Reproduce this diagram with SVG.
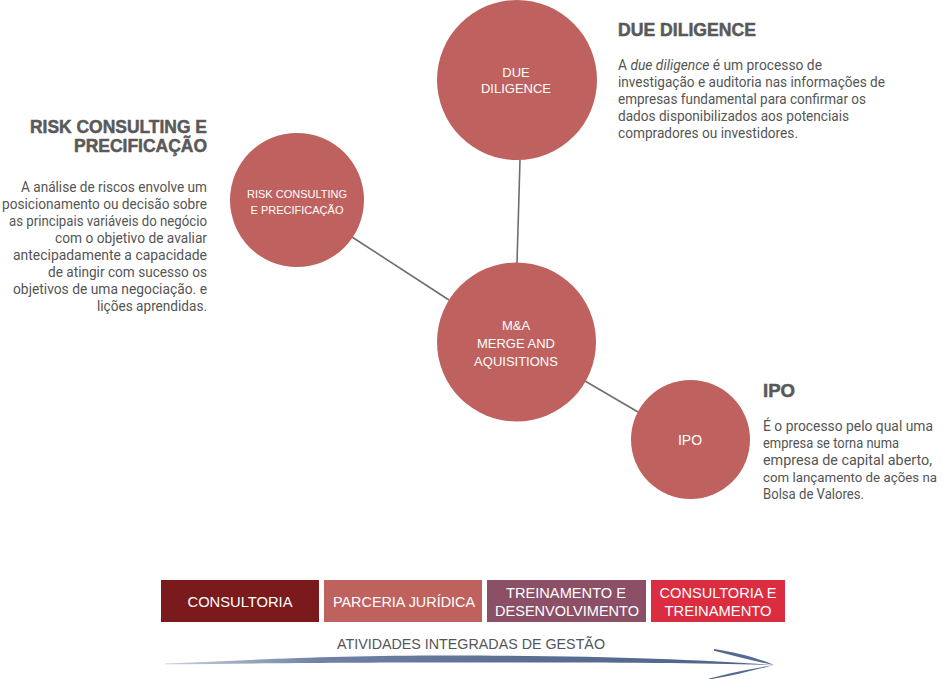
<svg xmlns="http://www.w3.org/2000/svg" width="943" height="679" viewBox="0 0 943 679">
<defs>
<style>
.node circle{fill:#bf615e}
.lbl{font-family:"Liberation Sans",Arial,sans-serif;fill:#fff;text-anchor:middle}
.hd{font-family:"Liberation Sans",Arial,sans-serif;font-weight:bold;font-size:18px;fill:#595959;stroke:#595959;stroke-width:0.5}
.bd{font-family:Roboto,"Liberation Sans",sans-serif;font-size:14px;fill:#555}
.conn line{stroke:#6e6e6e;stroke-width:1.6}
.box text{font-family:"Liberation Sans",Arial,sans-serif;font-size:15px;fill:#fff;text-anchor:middle}
</style>
<linearGradient id="ag" x1="165" y1="0" x2="775" y2="0" gradientUnits="userSpaceOnUse">
<stop offset="0" stop-color="#c8d0dd"/>
<stop offset="0.25" stop-color="#6f82a4"/>
<stop offset="0.6" stop-color="#5a6e94"/>
<stop offset="1" stop-color="#4f6489"/>
</linearGradient>
</defs>
<rect width="943" height="679" fill="#fff"/>

<g id="connectors" class="conn">
<line x1="520" y1="160" x2="517" y2="263"/>
<line x1="352" y1="237" x2="449" y2="300"/>
<line x1="585" y1="381" x2="638" y2="412"/>
</g>

<g id="due" class="node">
<circle cx="517" cy="80" r="80"/>
<text class="lbl" font-size="13" x="516" y="77">DUE</text>
<text class="lbl" font-size="13" x="516" y="93">DILIGENCE</text>
</g>
<g id="risk" class="node">
<circle cx="297" cy="200" r="67"/>
<text class="lbl" font-size="11" x="297" y="198">RISK CONSULTING</text>
<text class="lbl" font-size="11" x="297" y="214">E PRECIFICAÇÃO</text>
</g>
<g id="ma" class="node">
<circle cx="516.5" cy="342" r="79.5"/>
<text class="lbl" font-size="13" x="516" y="330">M&amp;A</text>
<text class="lbl" font-size="13" x="516" y="348">MERGE AND</text>
<text class="lbl" font-size="13" x="516" y="366">AQUISITIONS</text>
</g>
<g id="ipo" class="node">
<circle cx="690.5" cy="439.5" r="59.5"/>
<text class="lbl" font-size="14" x="690" y="445">IPO</text>
</g>

<g id="risk-text">
<text class="hd" x="207" y="133" text-anchor="end" textLength="177" lengthAdjust="spacingAndGlyphs">RISK CONSULTING E</text>
<text class="hd" x="207" y="152" text-anchor="end" textLength="133" lengthAdjust="spacingAndGlyphs">PRECIFICAÇÃO</text>
<g class="bd" text-anchor="end">
<text x="207" y="192" textLength="186" lengthAdjust="spacingAndGlyphs">A análise de riscos envolve um</text>
<text x="207" y="209" textLength="205" lengthAdjust="spacingAndGlyphs">posicionamento ou decisão sobre</text>
<text x="207" y="226" textLength="198" lengthAdjust="spacingAndGlyphs">as principais variáveis do negócio</text>
<text x="207" y="243" textLength="152" lengthAdjust="spacingAndGlyphs">com o objetivo de avaliar</text>
<text x="207" y="260" textLength="194" lengthAdjust="spacingAndGlyphs">antecipadamente a capacidade</text>
<text x="207" y="277" textLength="159" lengthAdjust="spacingAndGlyphs">de atingir com sucesso os</text>
<text x="207" y="294" textLength="194" lengthAdjust="spacingAndGlyphs">objetivos de uma negociação. e</text>
<text x="207" y="311" textLength="110" lengthAdjust="spacingAndGlyphs">lições aprendidas.</text>
</g>
</g>

<g id="due-text">
<text class="hd" x="618" y="36" textLength="138" lengthAdjust="spacingAndGlyphs">DUE DILIGENCE</text>
<g class="bd">
<text x="618" y="70" textLength="204" lengthAdjust="spacingAndGlyphs">A <tspan font-style="italic">due diligence</tspan> é um processo de</text>
<text x="618" y="87" textLength="267" lengthAdjust="spacingAndGlyphs">investigação e auditoria nas informações de</text>
<text x="618" y="104" textLength="248" lengthAdjust="spacingAndGlyphs">empresas fundamental para confirmar os</text>
<text x="618" y="121" textLength="231" lengthAdjust="spacingAndGlyphs">dados disponibilizados aos potenciais</text>
<text x="618" y="138" textLength="180" lengthAdjust="spacingAndGlyphs">compradores ou investidores.</text>
</g>
</g>

<g id="ipo-text">
<text class="hd" x="763" y="397" textLength="32" lengthAdjust="spacingAndGlyphs">IPO</text>
<g class="bd">
<text x="763" y="431" textLength="170" lengthAdjust="spacingAndGlyphs">É o processo pelo qual uma</text>
<text x="763" y="448" textLength="136" lengthAdjust="spacingAndGlyphs">empresa se torna numa</text>
<text x="763" y="465" textLength="169" lengthAdjust="spacingAndGlyphs">empresa de capital aberto,</text>
<text x="763" y="482" font-size="13" textLength="174" lengthAdjust="spacingAndGlyphs">com lançamento de ações na</text>
<text x="763" y="499" textLength="101" lengthAdjust="spacingAndGlyphs">Bolsa de Valores.</text>
</g>
</g>

<g id="box-consultoria" class="box">
<rect x="161" y="580" width="158" height="42" fill="#7a1a1c"/>
<text x="240" y="607" textLength="105" lengthAdjust="spacingAndGlyphs">CONSULTORIA</text>
</g>
<g id="box-parceria" class="box">
<rect x="324" y="580" width="158" height="42" fill="#bf625e"/>
<text x="404" y="607" textLength="142" lengthAdjust="spacingAndGlyphs">PARCERIA JURÍDICA</text>
</g>
<g id="box-treinamento" class="box">
<rect x="487" y="580" width="159" height="42" fill="#8c5066"/>
<text x="566" y="598" textLength="120" lengthAdjust="spacingAndGlyphs">TREINAMENTO E</text>
<text x="567" y="616" textLength="144" lengthAdjust="spacingAndGlyphs">DESENVOLVIMENTO</text>
</g>
<g id="box-consult-trein" class="box">
<rect x="651" y="580" width="134" height="42" fill="#db2c40"/>
<text x="718" y="598" textLength="117" lengthAdjust="spacingAndGlyphs">CONSULTORIA E</text>
<text x="718" y="616" textLength="107" lengthAdjust="spacingAndGlyphs">TREINAMENTO</text>
</g>

<g id="timeline">
<text x="471" y="649" font-family="'Liberation Sans',Arial,sans-serif" font-size="15" fill="#555" text-anchor="middle" textLength="268" lengthAdjust="spacingAndGlyphs">ATIVIDADES INTEGRADAS DE GESTÃO</text>
<path fill="url(#ag)" d="M165,663.5 C250,660 330,655.5 450,655.5 C600,655.5 700,659.5 774,665 C700,663 600,662.5 450,662.5 C330,662.5 250,663.5 165,664.3 Z"/>
<path fill="#56698f" d="M714,649 C735,652 758,658 774,665 C755,661.5 735,656 714,650.8 Z"/>
<path fill="#56698f" d="M709,678.5 C730,673 755,668 774,665 C755,670 732,676 709,679.5 Z"/>
</g>
</svg>
